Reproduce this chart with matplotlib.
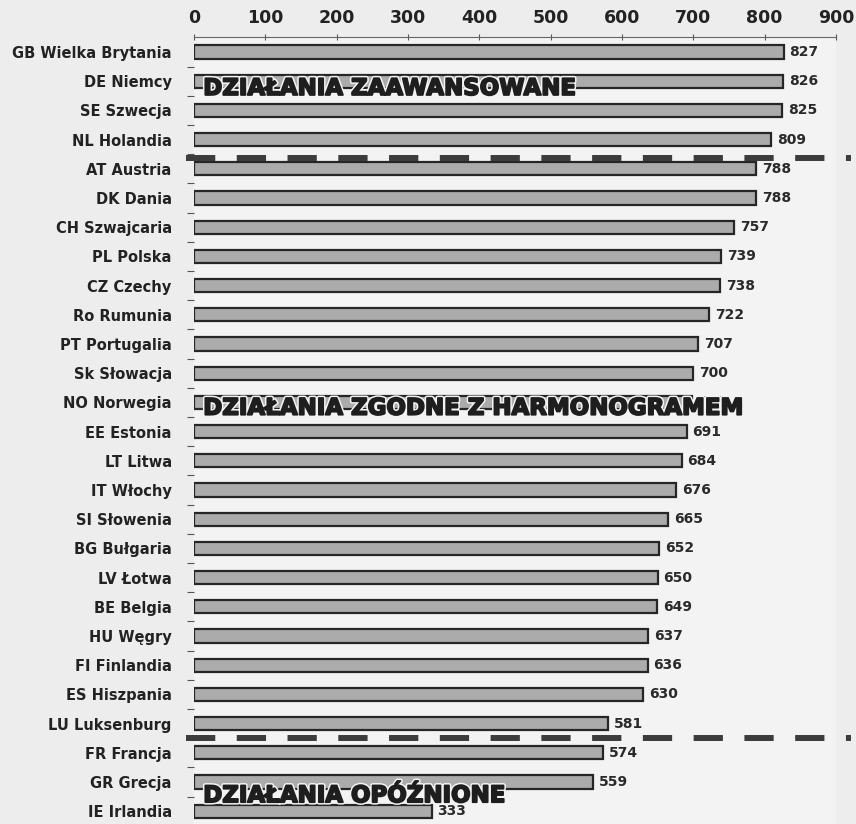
import numpy as np
import matplotlib
matplotlib.use("Agg")
import matplotlib.pyplot as plt
import matplotlib.patheffects as pe

plt.rcParams['font.family'] = ['DejaVu Sans']
plt.rcParams['font.weight'] = 'bold'

countries = ["GB Wielka Brytania", "DE Niemcy", "SE Szwecja", "NL Holandia",
             "AT Austria", "DK Dania", "CH Szwajcaria", "PL Polska",
             "CZ Czechy", "Ro Rumunia", "PT Portugalia", "Sk Słowacja",
             "NO Norwegia", "EE Estonia", "LT Litwa", "IT Włochy",
             "SI Słowenia", "BG Bułgaria", "LV Łotwa", "BE Belgia",
             "HU Węgry", "FI Finlandia", "ES Hiszpania", "LU Luksenburg",
             "FR Francja", "GR Grecja", "IE Irlandia"]
values = [827, 826, 825, 809, 788, 788, 757, 739, 738, 722, 707, 700, 698,
          691, 684, 676, 665, 652, 650, 649, 637, 636, 630, 581, 574, 559, 333]

# group separators (after NL and after LU) and group captions
separators = [3.62, 23.5]
groups = ["DZIAŁANIA ZAAWANSOWANE", "DZIAŁANIA ZGODNE Z HARMONOGRAMEM",
          "DZIAŁANIA OPÓŹNIONE"]
group_rows = [1.25, 12.2, 25.47]

bg = '#ededed'
fig = plt.figure(figsize=(8.56, 8.24), dpi=100, facecolor=bg)
ax = fig.add_axes([0.2266, 0.0, 0.75, 0.955])
ax.set_facecolor('#f3f3f3')

y = np.arange(len(countries))
ax.barh(y, values, height=0.45, color='#ababab', edgecolor='#262626',
        linewidth=1.6, zorder=2)

for yi, v in zip(y, values):
    ax.text(v + 8, yi, str(v), va='center', ha='left', fontsize=10,
            color='#2a2a2a', fontweight='bold')

for s in separators:
    ax.plot([-11, 921], [s, s], color='#3c3c3c', lw=4.3,
            linestyle=(0, (4.9, 3.6)), solid_capstyle='butt',
            clip_on=False, zorder=3)

for g, r in zip(groups, group_rows):
    ax.text(13, r, g, va='center', ha='left', fontsize=16.5,
            fontweight='bold', color='#1e1e1e', zorder=4,
            path_effects=[pe.withStroke(linewidth=3.5, foreground='#f3f3f3'),
                          pe.withStroke(linewidth=1.3, foreground='#1e1e1e')])

ax.set_xlim(0, 900)
ax.set_ylim(26.44, -0.51)
ax.xaxis.tick_top()
ax.set_xticks(np.arange(0, 901, 100))
ax.tick_params(axis='x', direction='inout', length=5, width=0.8,
               colors='#555555', labelsize=12.5, pad=5,
               labelcolor='#222222')
ax.set_yticks(y)
ax.set_yticklabels(countries, fontsize=10.5, color='#222222')
ax.tick_params(axis='y', length=0, pad=16)
ax.set_yticks(y[:-1] + 0.5, minor=True)
ax.tick_params(axis='y', which='minor', length=5, width=0.8,
               color='#555555')

for side in ['bottom', 'right', 'left']:
    ax.spines[side].set_visible(False)
ax.spines['top'].set_color('#666666')
ax.spines['top'].set_linewidth(0.8)

fig.savefig('out.png', dpi=100, facecolor=bg)
